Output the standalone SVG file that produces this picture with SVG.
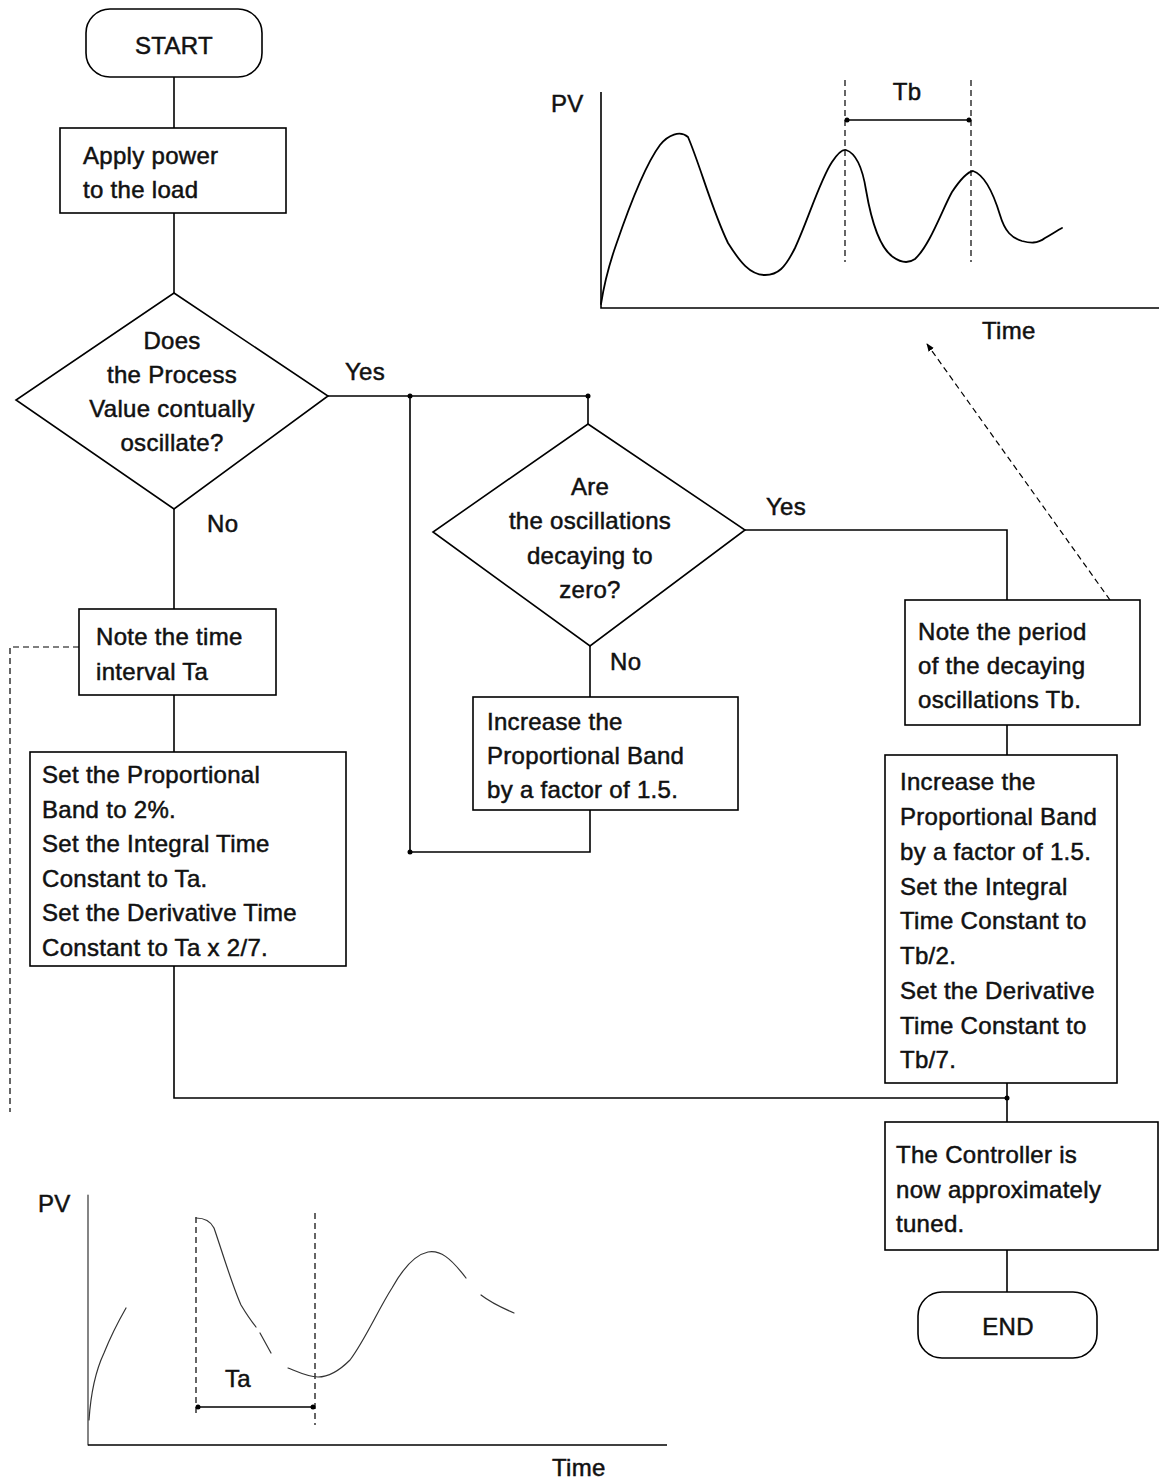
<svg xmlns="http://www.w3.org/2000/svg" width="1159" height="1480" viewBox="0 0 1159 1480">
<style>
.box{fill:#fff;stroke:#000;stroke-width:1.6}
.ln{fill:none;stroke:#000;stroke-width:1.6}
.dash{fill:none;stroke:#000;stroke-width:1.2;stroke-dasharray:6 4}
.curve{fill:none;stroke:#000;stroke-width:1.8;stroke-linejoin:round;stroke-linecap:round}
.faint{fill:none;stroke:#333;stroke-width:1.2;stroke-linecap:round}
text{font-family:"Liberation Sans",Arial,sans-serif;font-size:24px;fill:#111;stroke:#111;stroke-width:0.5;letter-spacing:0.3px}
.c{text-anchor:middle}
</style>
<defs>
<marker id="dot" viewBox="0 0 6 6" refX="3" refY="3" markerWidth="6" markerHeight="6" markerUnits="userSpaceOnUse"><circle cx="3" cy="3" r="2.5" fill="#000"/></marker>
<marker id="ah" viewBox="0 0 10 10" refX="9" refY="5" markerWidth="8" markerHeight="8" orient="auto-start-reverse" markerUnits="userSpaceOnUse"><path d="M0,1 L10,5 L0,9 z" fill="#000"/></marker>
</defs>
<rect width="1159" height="1480" fill="#fff"/>

<g id="connectors">
<line class="ln" x1="174" y1="77" x2="174" y2="128"/>
<line class="ln" x1="174" y1="213" x2="174" y2="293"/>
<line class="ln" x1="174" y1="509" x2="174" y2="609"/>
<line class="ln" x1="174" y1="695" x2="174" y2="752"/>
<polyline class="ln" points="174,965 174,1098 1007,1098" marker-end="url(#dot)"/>
<polyline class="ln" points="328,396 588,396 588,424" marker-mid="url(#dot)"/>
<circle cx="410" cy="396" r="2.5" fill="#000"/>
<polyline class="ln" points="590,810 590,852 410,852 410,396"/>
<circle cx="410" cy="852" r="2.5" fill="#000"/>
<line class="ln" x1="590" y1="646" x2="590" y2="697"/>
<polyline class="ln" points="745,530 1007,530 1007,600"/>
<line class="ln" x1="1007" y1="725" x2="1007" y2="755"/>
<line class="ln" x1="1007" y1="1083" x2="1007" y2="1122"/>
<line class="ln" x1="1007" y1="1250" x2="1007" y2="1292"/>
<polyline class="dash" points="79,647 10,647 10,1112"/>
<line class="dash" x1="1110" y1="600" x2="927" y2="344" marker-end="url(#ah)"/>
</g>

<g id="start">
<rect class="box" x="86" y="9" width="176" height="68" rx="24"/>
<text class="c" x="174" y="54">START</text>
</g>

<g id="apply">
<rect class="box" x="60" y="128" width="226" height="85"/>
<text x="83" y="164">Apply power</text>
<text x="83" y="198">to the load</text>
</g>

<g id="decision1">
<polygon class="box" points="174,293 328,396 174,509 16,400"/>
<text class="c" x="172" y="349">Does</text>
<text class="c" x="172" y="383">the Process</text>
<text class="c" x="172" y="417">Value contually</text>
<text class="c" x="172" y="451">oscillate?</text>
<text x="345" y="380">Yes</text>
<text x="207" y="532">No</text>
</g>

<g id="noteTa">
<rect class="box" x="79" y="609" width="197" height="86"/>
<text x="96" y="645">Note the time</text>
<text x="96" y="680">interval Ta</text>
</g>

<g id="setTa">
<rect class="box" x="30" y="752" width="316" height="214"/>
<text x="42" y="783">Set the Proportional</text>
<text x="42" y="818">Band to 2%.</text>
<text x="42" y="852">Set the Integral Time</text>
<text x="42" y="887">Constant to Ta.</text>
<text x="42" y="921">Set the Derivative Time</text>
<text x="42" y="956">Constant to Ta x 2/7.</text>
</g>

<g id="decision2">
<polygon class="box" points="588,424 745,530 590,646 433,532"/>
<text class="c" x="590" y="495">Are</text>
<text class="c" x="590" y="529">the oscillations</text>
<text class="c" x="590" y="564">decaying to</text>
<text class="c" x="590" y="598">zero?</text>
<text x="766" y="515">Yes</text>
<text x="610" y="670">No</text>
</g>

<g id="increasePB">
<rect class="box" x="473" y="697" width="265" height="113"/>
<text x="487" y="730">Increase the</text>
<text x="487" y="764">Proportional Band</text>
<text x="487" y="798">by a factor of 1.5.</text>
</g>

<g id="noteTb">
<rect class="box" x="905" y="600" width="235" height="125"/>
<text x="918" y="640">Note the period</text>
<text x="918" y="674">of the decaying</text>
<text x="918" y="708">oscillations Tb.</text>
</g>

<g id="setTb">
<rect class="box" x="885" y="755" width="232" height="328"/>
<text x="900" y="790">Increase the</text>
<text x="900" y="825">Proportional Band</text>
<text x="900" y="860">by a factor of 1.5.</text>
<text x="900" y="895">Set the Integral</text>
<text x="900" y="929">Time Constant to</text>
<text x="900" y="964">Tb/2.</text>
<text x="900" y="999">Set the Derivative</text>
<text x="900" y="1034">Time Constant to</text>
<text x="900" y="1068">Tb/7.</text>
</g>

<g id="tuned">
<rect class="box" x="885" y="1122" width="273" height="128"/>
<text x="896" y="1163">The Controller is</text>
<text x="896" y="1198">now approximately</text>
<text x="896" y="1232">tuned.</text>
</g>

<g id="end">
<rect class="box" x="918" y="1292" width="179" height="66" rx="24"/>
<text class="c" x="1008" y="1335">END</text>
</g>

<g id="chartTb">
<polyline class="ln" points="601,92 601,308 1159,308"/>
<text x="551" y="112">PV</text>
<text x="982" y="339">Time</text>
<text class="c" x="907" y="100">Tb</text>
<line class="dash" x1="845" y1="80" x2="845" y2="262"/>
<line class="dash" x1="971" y1="80" x2="971" y2="262"/>
<line class="ln" x1="847" y1="120" x2="969" y2="120" marker-start="url(#dot)" marker-end="url(#dot)"/>
<path class="curve" d="M601,304 C604,285 610,262 616,245 C628,210 645,165 660,145 C668,135 680,130 688,137 C700,165 712,210 728,243 C740,262 750,275 765,275 C778,275 785,268 795,248 C808,220 820,180 832,162 C838,153 842,149 846,150 C855,153 862,165 866,190 C872,225 880,248 893,257 C900,262 908,264 915,259 C930,245 942,210 952,192 C960,180 967,172 973,171 C985,175 993,192 1000,215 C1005,232 1012,238 1022,241 C1030,243 1037,244 1045,238 C1052,234 1058,230 1062,228"/>
</g>

<g id="chartTa">
<line class="faint" x1="88" y1="1195" x2="88" y2="1445"/>
<line class="ln" x1="88" y1="1445" x2="667" y2="1445"/>
<text x="38" y="1212">PV</text>
<text x="552" y="1476">Time</text>
<text x="225" y="1387">Ta</text>
<line class="dash" x1="196" y1="1217" x2="196" y2="1415"/>
<line class="dash" x1="315" y1="1213" x2="315" y2="1425"/>
<line class="ln" x1="198" y1="1407" x2="313" y2="1407" marker-start="url(#dot)" marker-end="url(#dot)"/>
<path class="faint" d="M89,1420 C91,1390 96,1370 104,1353 C110,1338 118,1322 126,1308"/>
<path class="faint" d="M196,1218 C204,1218 210,1220 214,1228 C220,1245 232,1285 241,1305 C247,1315 252,1322 256,1327"/>
<path class="faint" d="M260,1333 L271,1353"/>
<path class="faint" d="M288,1368 C298,1372 308,1377 318,1377 C330,1377 340,1370 350,1360 C365,1340 378,1310 392,1288 C402,1270 414,1255 428,1252 C440,1250 450,1257 466,1278"/>
<path class="faint" d="M481,1295 C490,1302 500,1307 514,1313"/>
</g>
</svg>
